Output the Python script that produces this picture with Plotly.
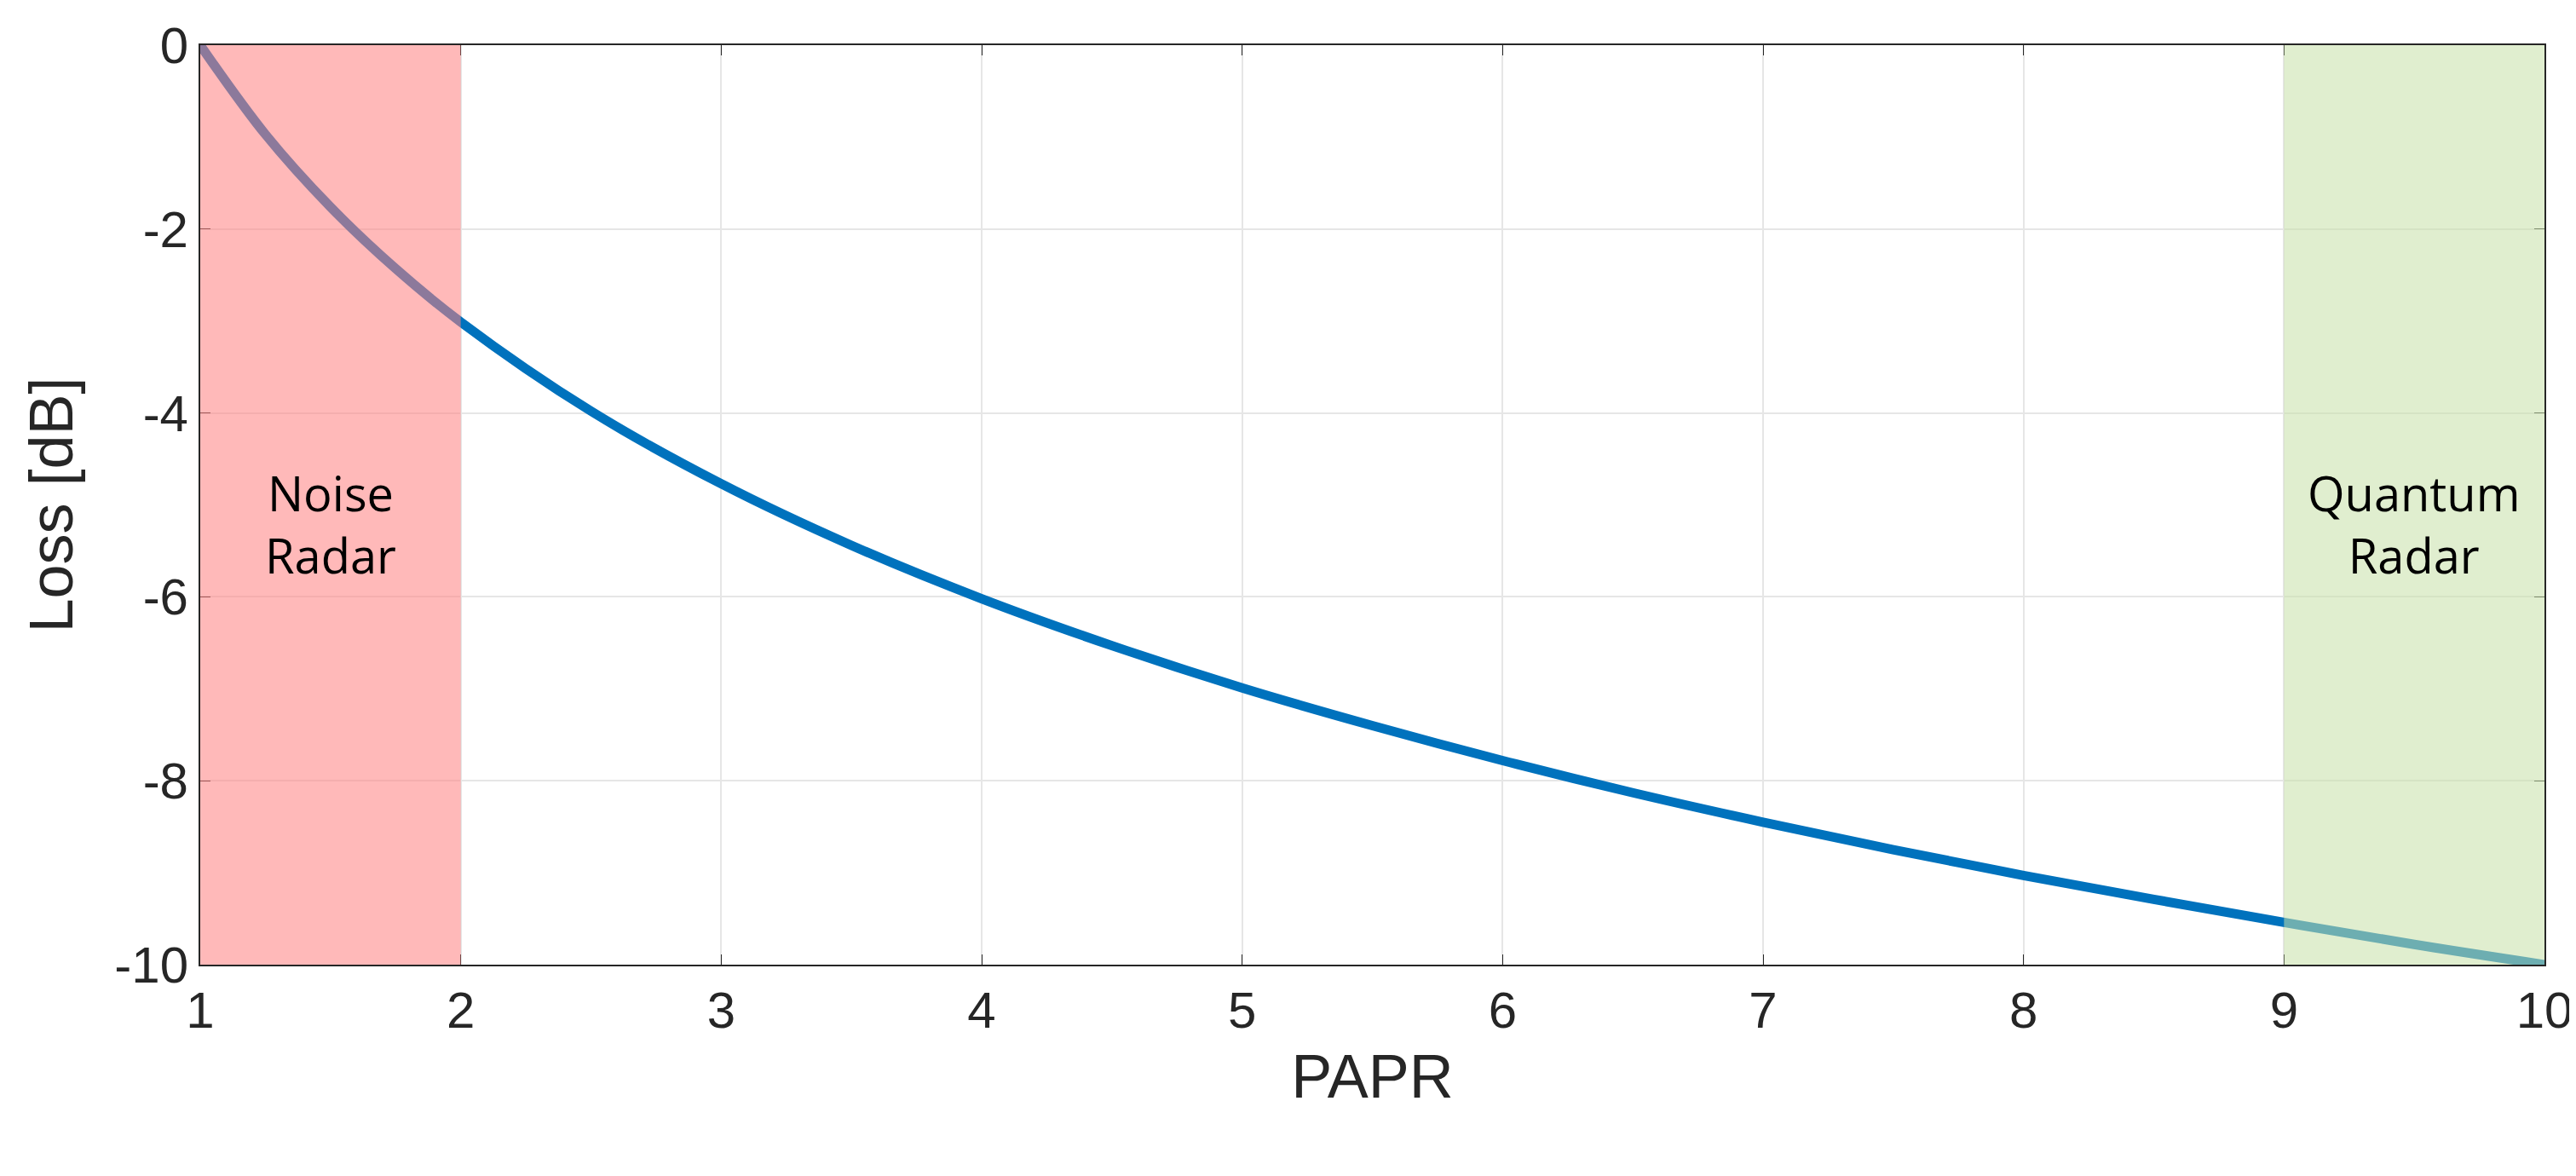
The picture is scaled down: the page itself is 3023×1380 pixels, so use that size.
import plotly.graph_objects as go

# values
papr = [1, 1.25, 1.5, 1.75, 2, 2.5, 3, 3.5, 4, 4.5, 5, 5.5, 6, 6.5, 7, 7.5, 8, 8.5, 9, 9.5, 10]
loss = [0, -0.97, -1.76, -2.43, -3.01, -3.98, -4.77, -5.44, -6.02, -6.53, -6.99,
        -7.40, -7.78, -8.13, -8.45, -8.75, -9.03, -9.29, -9.54, -9.78, -10]

y_ticks = [0, -2, -4, -6, -8, -10]
y_labels = ["0", "-2", "-4", "-6", "-8", "-10"]

regions = [(1, 2, "#ff8080", "Noise<br>Radar", 1.5),
           (9, 10, "#c6e0a8", "Quantum<br>Radar", 9.5)]

fig = go.Figure()
fig.add_trace(go.Scatter(x=papr, y=loss, mode="lines", line=dict(color="#0072bd", width=11, shape="spline"),
                         showlegend=False))

for x0, x1, col, label, xm in regions:
    fig.add_shape(type="rect", x0=x0, x1=x1, y0=-10, y1=0, xref="x", yref="y",
                  fillcolor=col, opacity=0.55, line_width=0, layer="above")
    fig.add_annotation(x=xm, y=-5.2, text=label, showarrow=False,
                       font=dict(family="Open Sans", size=56, color="black"))

axis = dict(showline=True, linecolor="#262626", linewidth=2, mirror="ticks", ticks="inside",
            ticklen=12, tickcolor="#262626", gridcolor="#e6e6e6", gridwidth=2, zeroline=False,
            tickfont=dict(family="Liberation Sans", size=60, color="#262626"))
title_font = dict(family="Liberation Sans", size=72, color="#262626")
fig.update_xaxes(range=[1, 10], dtick=1, title=dict(text="PAPR", font=title_font, standoff=20), **axis)
fig.update_yaxes(range=[-10, 0], tickvals=y_ticks, ticktext=y_labels,
                 title=dict(text="Loss [dB]", font=title_font, standoff=25), **axis)
fig.update_layout(width=3023, height=1380, plot_bgcolor="white", paper_bgcolor="white",
                  margin=dict(l=227, r=44, t=43, b=256))
fig.write_html("out.html")
